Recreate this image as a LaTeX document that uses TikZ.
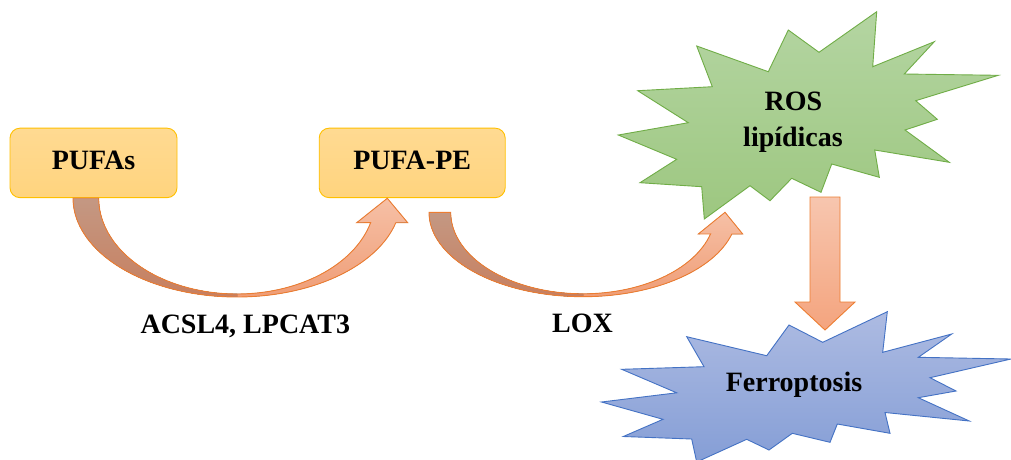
\documentclass[tikz,border=0pt]{standalone}
\usepackage{fontspec}
\setmainfont{Liberation Serif}
\newcommand\lblfont{\bfseries\fontsize{28}{34}\selectfont}
\definecolor{boxline}{HTML}{FFC000}
\definecolor{boxtop}{HTML}{FFDA92}
\definecolor{boxbot}{HTML}{FFD47E}
\definecolor{arrline}{HTML}{ED7D31}
\definecolor{brtop}{HTML}{C49883}
\definecolor{brbot}{HTML}{C77F5F}
\definecolor{sltop}{HTML}{F6C0A6}
\definecolor{slbot}{HTML}{EF9D76}
\definecolor{dntop}{HTML}{F7C6AF}
\definecolor{dnbot}{HTML}{F4A47E}
\definecolor{grline}{HTML}{70AD47}
\definecolor{grtop}{HTML}{B4D5A2}
\definecolor{grbot}{HTML}{9DC780}
\definecolor{blline}{HTML}{4472C4}
\definecolor{bltop}{HTML}{ADBBE2}
\definecolor{blbot}{HTML}{859ED6}
\begin{document}
\begin{tikzpicture}[x=1pt,y=-1pt,
  box/.style={draw=boxline, line width=0.9pt, top color=boxtop, bottom color=boxbot,
    rounded corners=10pt, minimum width=#1, minimum height=69.5pt, inner sep=0pt,
    font=\lblfont, text height=20pt, text depth=6.9pt},
  lbl/.style={font=\lblfont, inner sep=0pt, anchor=base},
  blockline/.style={draw=arrline, line width=0.9pt, line join=miter},
  burst/.style={line width=0.9pt, line join=miter}]
\useasboundingbox (0,0) rectangle (1011,459);
\fill[white] (0,0) rectangle (1011,459);

% ---- the two lipid boxes
\node[box=167pt] (pufas) at (93.5,162.9) {PUFAs};
\node[box=186pt] (pufape) at (412.2,162.9) {PUFA-PE};

% ---- curved block arrows (outer and inner ellipse arcs)
\coordinate (c1) at (237,198);
\coordinate (c2) at (583,212.3);
\def\curvone{plot[domain=180:14.45,samples=70] ({237+164*cos(\x)},{198+99*sin(\x)})
  -- (407.7,222.7) -- (387.3,198.3) -- (356.7,222.7)
  -- plot[domain=14.9:180,samples=70] ({237+138.3*cos(\x)},{198+96*sin(\x)}) -- cycle}
\def\curvtwo{plot[domain=180:14.9,samples=70] ({583+154*cos(\x)},{212.3+84.4*sin(\x)})
  -- (742.7,234) -- (725,212.3) -- (698.3,234)
  -- plot[domain=15.4:180,samples=70] ({583+132.3*cos(\x)},{212.3+81.5*sin(\x)}) -- cycle}

\fill[top color=sltop, bottom color=slbot] \curvone;
\begin{scope}
  \clip (0,0) rectangle (237,459);
  \fill[top color=brtop, bottom color=brbot] \curvone;
\end{scope}
\draw[blockline] \curvone;

\fill[top color=sltop, bottom color=slbot] \curvtwo;
\begin{scope}
  \clip (0,0) rectangle (583,459);
  \fill[top color=brtop, bottom color=brbot] \curvtwo;
\end{scope}
\draw[blockline] \curvtwo;

% ---- enzyme labels
\node[lbl] (acsl) at (245.3,333.5) {ACSL4, LPCAT3};
\node[lbl] (lox) at (582.5,332) {LOX};

% ---- lipid ROS burst
\draw[burst, draw=grline, top color=grtop, bottom color=grbot]
  (696.7,46) -- (768.3,71.7) -- (788.3,30) -- (819,52.3) -- (876.7,11.7)
  -- (872.7,66.7) -- (934.3,41.7) -- (904.3,74) -- (998.3,75.3) -- (915.7,100.7)
  -- (937.3,119.3) -- (905,130) -- (949.3,162.3) -- (874.7,150) -- (879.3,177.3)
  -- (831.7,164) -- (821,192.3) -- (791.7,178.3) -- (770,200.7) -- (750,185.7)
  -- (704.3,219) -- (701.7,186.7) -- (640,182.7) -- (676.7,159.3) -- (618.3,135)
  -- (688.3,122.7) -- (637.7,90.7) -- (712.3,86.7) -- cycle;
\node[lbl] (ros) at (793.5,110) {ROS};
\node[lbl] (lip) at (793,146.7) {lipídicas};

% ---- straight block arrow down
\draw[blockline, top color=dntop, bottom color=dnbot]
  (810,197) -- (840,197) -- (840,302) -- (855,302) -- (825,330)
  -- (795,302) -- (810,302) -- cycle;

% ---- ferroptosis burst
\draw[burst, draw=blline, top color=bltop, bottom color=blbot]
  (686.7,336.7) -- (766.7,355.7) -- (789,325) -- (822.7,342.3) -- (887.3,311.7)
  -- (882.7,352.3) -- (951.7,334) -- (918.3,357.3) -- (1011,359) -- (930,377.7)
  -- (956,391) -- (918.3,397.7) -- (969.3,421) -- (885,412.5) -- (890,433.3)
  -- (837.3,424) -- (830,442.3) -- (792.3,433.3) -- (769,450) -- (746.7,439.3)
  -- (696.7,462) -- (691.7,439) -- (623.3,436.5) -- (663,419.3) -- (601.5,402)
  -- (676.7,392.8) -- (621.7,369.3) -- (704,366.7) -- cycle;
\node[lbl] (ferro) at (794,391.7) {Ferroptosis};
\end{tikzpicture}
\end{document}
